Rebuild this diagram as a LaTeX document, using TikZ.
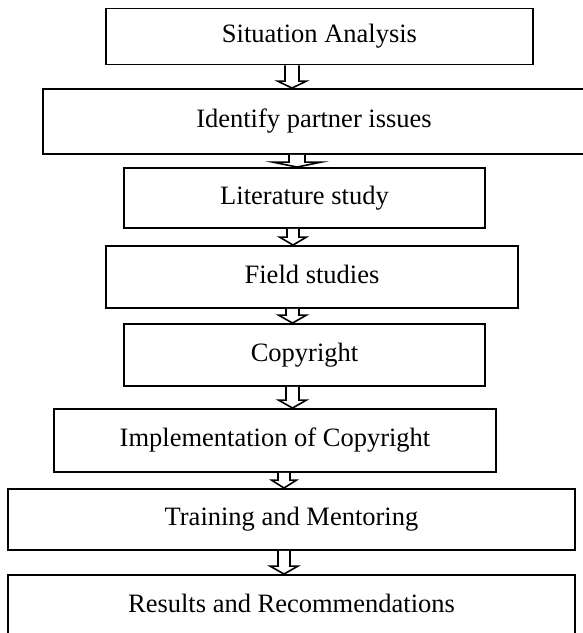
\documentclass[tikz,border=0pt]{standalone}
\usepackage{fontspec}
\setmainfont{Liberation Serif}
\usetikzlibrary{calc}

\newcommand{\blockarrow}[6]{%
  \coordinate (tip) at ({#3},0 |- #2.north);
  \draw[blockline] ({#3-#4},0 |- #1.south) -- ($(tip)+({-#4},{-#6})$) -- ($(tip)+({-#5},{-#6})$)
    -- (tip) -- ($(tip)+({#5},{-#6})$) -- ($(tip)+({#4},{-#6})$) -- ({#3+#4},0 |- #1.south);
}

\begin{document}
\begin{tikzpicture}[x=1pt, y=-1pt,
    stage/.style={draw, line width=1.9pt, inner sep=0pt, font=\fontsize{26.5}{30}\selectfont,
      text height=18.5pt, text depth=5.8pt},
    blockline/.style={fill=white, line width=1.6pt, line join=miter}]
  \useasboundingbox (0,0) rectangle (583,633);

  \node[stage, minimum width=427pt, minimum height=56pt] (sa) at (319.5, 36.5) {Situation Analysis};
  \node[stage, minimum width=542pt, minimum height=65pt] (ip) at (314, 121.5) {Identify partner issues};
  \node[stage, minimum width=361pt, minimum height=60pt] (ls) at (304.5, 198) {Literature study};
  \node[stage, minimum width=412pt, minimum height=62pt] (fs) at (312, 277) {Field studies};
  \node[stage, minimum width=361pt, minimum height=62pt] (cr) at (304.5, 355) {Copyright};
  \node[stage, minimum width=442pt, minimum height=63pt] (ic) at (275, 440.5) {Implementation of Copyright};
  \node[stage, minimum width=567pt, minimum height=61pt] (tm) at (291.5, 519.5) {Training and Mentoring};
  \node[stage, minimum width=567pt, minimum height=62pt] (rr) at (291.5, 606) {Results and Recommendations};

  \blockarrow{sa}{ip}{292}{7}{14.5}{7}
  \blockarrow{ip}{ls}{297}{8}{24.5}{5}
  \blockarrow{ls}{fs}{293}{6}{13.5}{8}
  \blockarrow{fs}{cr}{292.5}{6.5}{14}{8}
  \blockarrow{cr}{ic}{292.5}{6.5}{14}{8}
  \blockarrow{ic}{tm}{284}{6}{12.5}{8}
  \blockarrow{tm}{rr}{284}{6}{14}{8}
\end{tikzpicture}
\end{document}
